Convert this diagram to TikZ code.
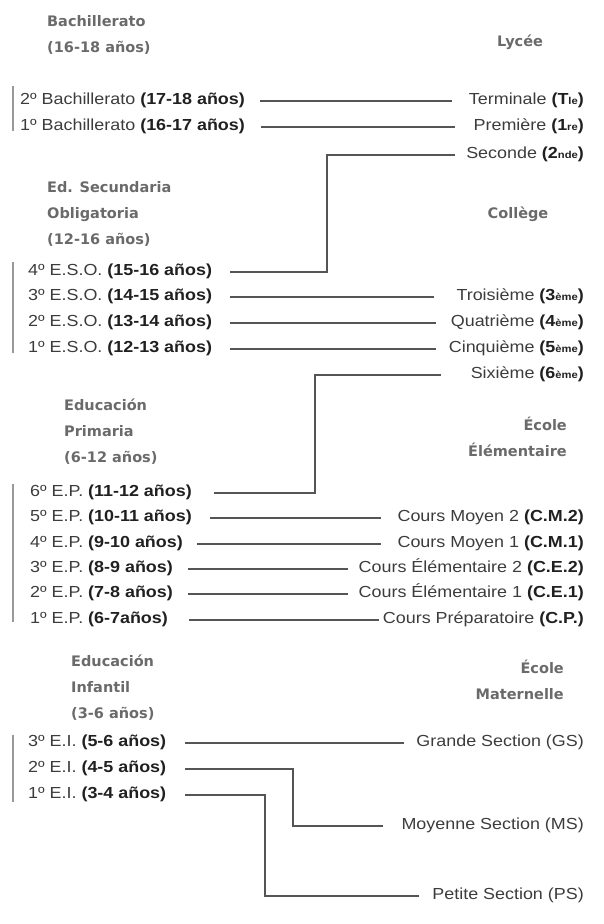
\documentclass[tikz,border=0pt]{standalone}
\usepackage{fontspec}
\setmainfont{Liberation Sans}[FakeStretch=1.12]
\newfontfamily\headfont{DejaVu Sans}
\usetikzlibrary{positioning}

\definecolor{txtgray}{HTML}{3C3C3C}
\definecolor{boldgray}{HTML}{202020}
\definecolor{headgray}{HTML}{6A6A6A}
\definecolor{linegray}{HTML}{555555}

\tikzset{
  esrow/.style={anchor=west, inner sep=0pt, text height=11.5pt, text depth=5.5pt,
    font=\fontsize{16}{18}\selectfont, text=txtgray},
  frrow/.style={esrow, anchor=east},
  esHead/.style={anchor=north west, align=left, inner sep=0pt,
    font=\headfont\bfseries\fontsize{14.5}{26}\selectfont, text=headgray},
  frHead/.style={esHead, anchor=north east, align=right},
  link/.style={draw=linegray, line width=1.8pt},
  bar/.style={draw=gray!80, line width=1.1pt}
}
\newcommand{\ages}[1]{\textbf{\color{boldgray}(#1)}}
\newcommand{\niv}[2]{\textbf{\color{boldgray}(#1{\fontsize{10}{10}\selectfont #2})}}

\begin{document}
\begin{tikzpicture}[x=1pt, y=-1pt]
    \useasboundingbox (0,0) rectangle (603,924);
    \def\rx{584}

    % section titles
    \node[esHead] (hBach) at (47,15) {Bachillerato\\(16-18 años)};
    \node[esHead] (hEso) at (47,181) {Ed. Secundaria\\Obligatoria\\(12-16 años)};
    \node[esHead] (hPrim) at (64,399) {Educación\\Primaria\\(6-12 años)};
    \node[esHead] (hInf) at (71,655) {Educación\\Infantil\\(3-6 años)};
    \node[esHead, anchor=center] (hLycee) at (520,42) {Lycée};
    \node[esHead, anchor=center] (hCollege) at (518,214) {Collège};
    \node[frHead] (hElem) at (567,417) {École\\Élémentaire};
    \node[frHead] (hMat) at (564,660) {École\\Maternelle};

    % Spanish side
    \node[esrow] (bach2) at (20,101) {2º Bachillerato \ages{17-18 años}};
    \node[esrow] (bach1) at (20,127) {1º Bachillerato \ages{16-17 años}};
    \node[esrow] (eso4) at (28,272) {4º E.S.O. \ages{15-16 años}};
    \node[esrow] (eso3) at (28,297) {3º E.S.O. \ages{14-15 años}};
    \node[esrow] (eso2) at (28,323) {2º E.S.O. \ages{13-14 años}};
    \node[esrow] (eso1) at (28,349) {1º E.S.O. \ages{12-13 años}};
    \node[esrow] (ep6) at (30,493) {6º E.P. \ages{11-12 años}};
    \node[esrow] (ep5) at (30,518) {5º E.P. \ages{10-11 años}};
    \node[esrow] (ep4) at (30,544) {4º E.P. \ages{9-10 años}};
    \node[esrow] (ep3) at (30,569) {3º E.P. \ages{8-9 años}};
    \node[esrow] (ep2) at (30,594) {2º E.P. \ages{7-8 años}};
    \node[esrow] (ep1) at (30,620) {1º E.P. \ages{6-7años}};
    \node[esrow] (ei3) at (28,743) {3º E.I. \ages{5-6 años}};
    \node[esrow] (ei2) at (28,769) {2º E.I. \ages{4-5 años}};
    \node[esrow] (ei1) at (28,795) {1º E.I. \ages{3-4 años}};

    % French side
    \node[frrow] (term) at (\rx,101) {Terminale \niv{T}{le}};
    \node[frrow] (prem) at (\rx,127) {Première \niv{1}{re}};
    \node[frrow] (sec) at (\rx,155) {Seconde \niv{2}{nde}};
    \node[frrow] (troi) at (\rx,297) {Troisième \niv{3}{ème}};
    \node[frrow] (quat) at (\rx,323) {Quatrième \niv{4}{ème}};
    \node[frrow] (cinq) at (\rx,349) {Cinquième \niv{5}{ème}};
    \node[frrow] (six) at (\rx,375) {Sixième \niv{6}{ème}};
    \node[frrow] (cm2) at (\rx,518) {Cours Moyen 2 \ages{C.M.2}};
    \node[frrow] (cm1) at (\rx,544) {Cours Moyen 1 \ages{C.M.1}};
    \node[frrow] (ce2) at (\rx,569) {Cours Élémentaire 2 \ages{C.E.2}};
    \node[frrow] (ce1) at (\rx,594) {Cours Élémentaire 1 \ages{C.E.1}};
    \node[frrow] (cp) at (\rx,620) {Cours Préparatoire \ages{C.P.}};
    \node[frrow] (gs) at (\rx,743) {Grande Section (GS)};
    \node[frrow] (ms) at (\rx,826) {Moyenne Section (MS)};
    \node[frrow] (ps) at (\rx,896) {Petite Section (PS)};

    % brackets
    \draw[bar] (13,86) -- (13,131);
    \draw[bar] (13,262) -- (13,353);
    \draw[bar] (13,484) -- (13,622);
    \draw[bar] (13,735) -- (13,802);

    % straight links
    \foreach \a/\b/\s/\t in {bach2/term/15pt/17pt, bach1/prem/16pt/18pt,
        eso3/troi/18pt/22pt, eso2/quat/18pt/15pt, eso1/cinq/18pt/13pt,
        ep5/cm2/18pt/16pt, ep4/cm1/14pt/16pt, ep3/ce2/15pt/11pt,
        ep2/ce1/15pt/11pt, ep1/cp/21pt/4pt, ei3/gs/19pt/12pt}
        \draw[link, shorten <=\s, shorten >=\t] (\a.east) -- (\b.west);

    % elbow links
    \coordinate (turnSec) at (327,0);
    \coordinate (turnSix) at (315,0);
    \coordinate (turnMs) at (293,0);
    \coordinate (turnPs) at (265,0);
    \draw[link, shorten <=11pt, shorten >=18pt] (sec.west) -- (sec.west -| turnSec) |- (eso4.east);
    \draw[link, shorten <=30pt, shorten >=22pt] (six.west) -- (six.west -| turnSix) |- (ep6.east);
    \draw[link, shorten <=19pt, shorten >=18pt] (ei2.east) -- (ei2.east -| turnMs) |- (ms.west);
    \draw[link, shorten <=19pt, shorten >=13pt] (ei1.east) -- (ei1.east -| turnPs) |- (ps.west);
\end{tikzpicture}
\end{document}
